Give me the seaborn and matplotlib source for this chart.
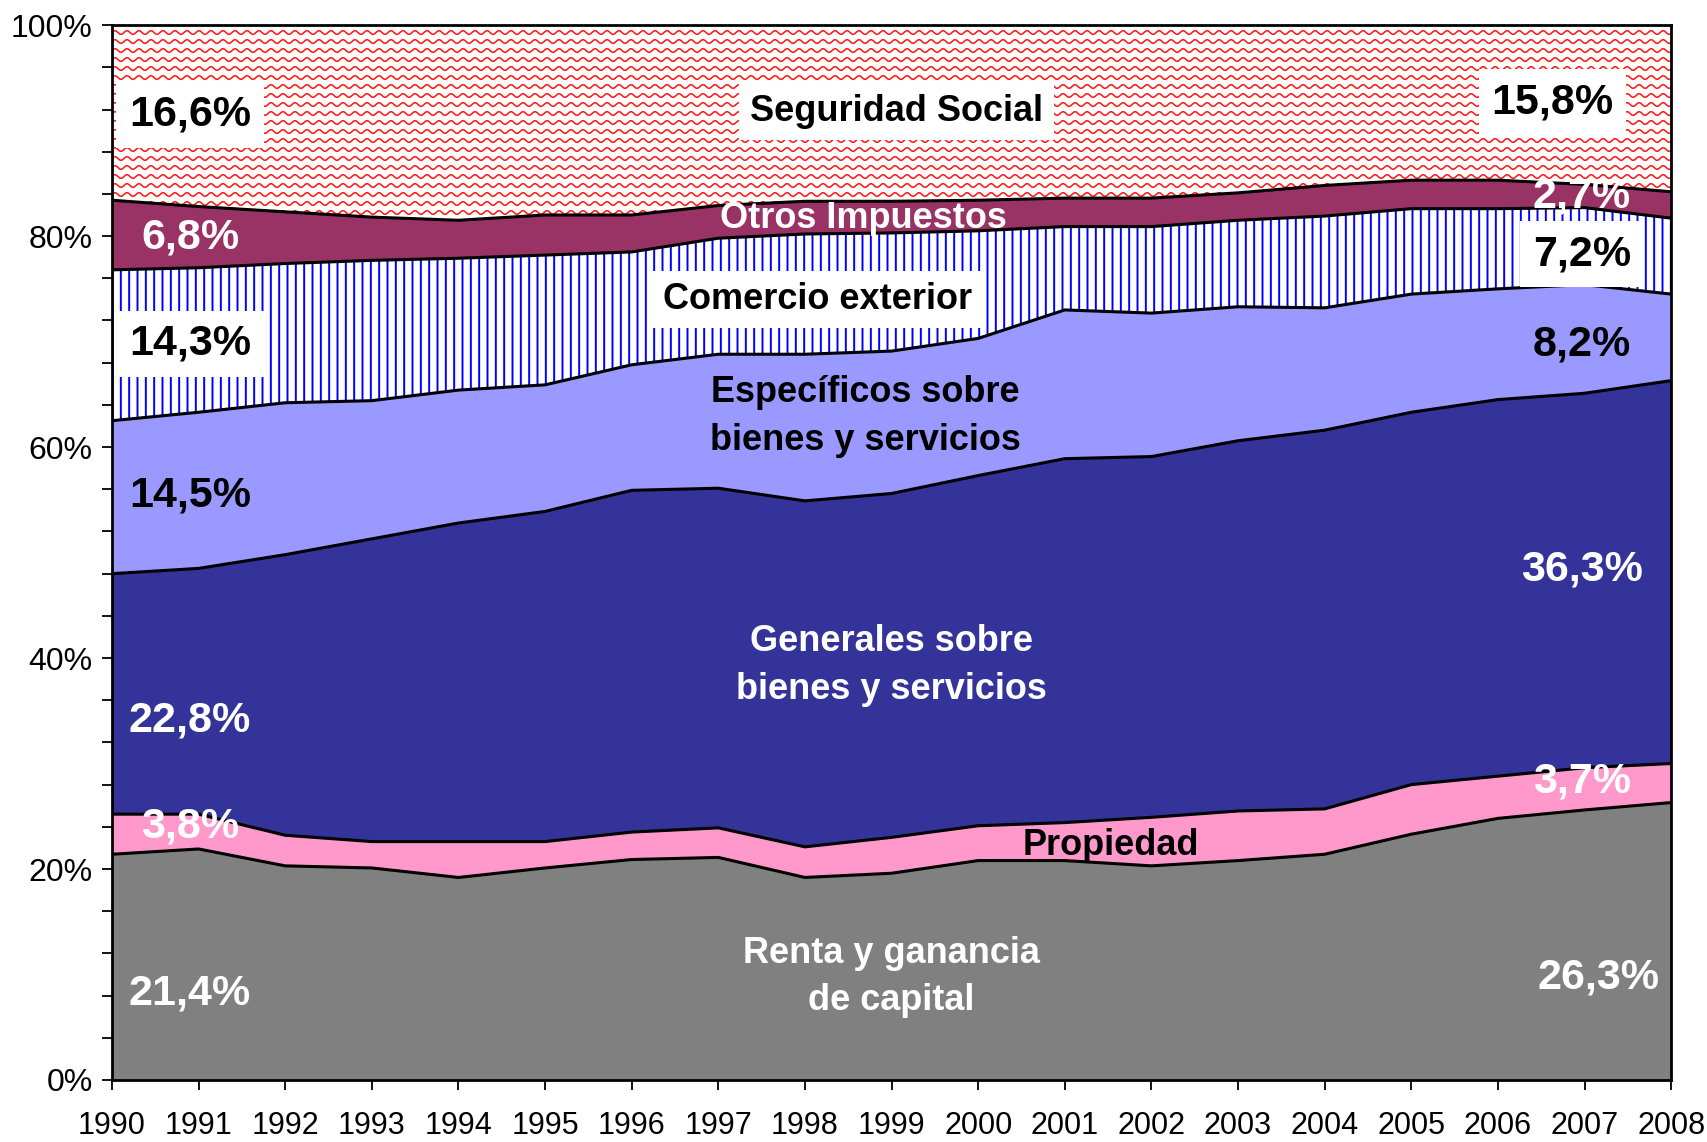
import numpy as np
import pandas as pd
import matplotlib
matplotlib.use("Agg")
import matplotlib.pyplot as plt
import seaborn as sns

years = list(range(1990, 2009))

# shares (%), bottom layer first
renta = [21.4, 21.9, 20.3, 20.1, 19.2, 20.1, 20.9, 21.1, 19.2, 19.6,
         20.8, 20.8, 20.3, 20.8, 21.4, 23.3, 24.8, 25.6, 26.3]
propiedad = [3.8, 3.3, 2.9, 2.5, 3.4, 2.5, 2.6, 2.8, 2.9, 3.4,
             3.3, 3.6, 4.6, 4.7, 4.3, 4.7, 4.0, 4.0, 3.7]
generales = [22.8, 23.3, 26.6, 28.7, 30.2, 31.3, 32.4, 32.2, 32.8, 32.6,
             33.2, 34.5, 34.2, 35.1, 35.9, 35.3, 35.7, 35.5, 36.3]
especificos = [14.5, 14.8, 14.4, 13.1, 12.6, 12.0, 11.9, 12.7, 13.9, 13.5,
               13.0, 14.1, 13.6, 12.7, 11.6, 11.2, 10.5, 10.3, 8.2]
comercio = [14.3, 13.7, 13.2, 13.3, 12.5, 12.3, 10.7, 11.0, 11.4, 11.2,
            10.2, 7.9, 8.2, 8.2, 8.7, 8.1, 7.6, 7.3, 7.2]
otros = [6.6, 5.8, 4.9, 4.1, 3.6, 3.8, 3.5, 3.1, 3.1, 3.0,
         2.9, 2.7, 2.7, 2.6, 2.9, 2.7, 2.7, 2.2, 2.5]

layers = ["Renta", "Propiedad", "Generales", "Especificos", "Comercio", "Otros", "Seguridad"]
shares = np.array([renta, propiedad, generales, especificos, comercio, otros])
seguridad = 100 - shares.sum(axis=0)
shares = np.vstack([shares, seguridad])
tops = np.cumsum(shares, axis=0)
bottoms = np.vstack([np.zeros(len(years)), tops[:-1]])

fill_colors = ["#808080", "#ff99cc", "#333399", "#9999ff", "white", "#993366", "white"]

# (text, x year, y %, color, size, boxed)
labels = [
    ("16,6%", 1990.9, 91.5, "black", 31, True),
    ("Seguridad Social", 1999.06, 91.8, "black", 26, True),
    ("15,8%", 2006.63, 92.7, "black", 31, True),
    ("6,8%", 1990.9, 79.9, "white", 31, False),
    ("Otros Impuestos", 1998.68, 81.7, "white", 26, False),
    ("2,7%", 2006.97, 83.8, "white", 31, False),
    ("14,3%", 1990.9, 69.8, "black", 31, True),
    ("Comercio exterior", 1998.14, 74.0, "black", 26, True),
    ("7,2%", 2006.97, 78.3, "black", 31, True),
    ("8,2%", 2006.97, 69.7, "black", 31, False),
    ("Específicos sobre\nbienes y servicios", 1998.7, 62.9, "black", 26, False),
    ("14,5%", 1990.9, 55.4, "black", 31, False),
    ("36,3%", 2006.97, 48.4, "white", 31, False),
    ("Generales sobre\nbienes y servicios", 1999.0, 39.3, "white", 26, False),
    ("22,8%", 1990.9, 34.1, "white", 31, False),
    ("3,8%", 1990.9, 24.0, "white", 31, False),
    ("3,7%", 2006.97, 28.3, "white", 31, False),
    ("Propiedad", 2001.53, 22.2, "black", 26, False),
    ("Renta y ganancia\nde capital", 1999.0, 9.8, "white", 26, False),
    ("21,4%", 1990.9, 8.2, "white", 31, False),
    ("26,3%", 2007.16, 9.7, "white", 31, False),
]

sns.set_style("white")
plt.rcParams['font.family'] = ['Liberation Sans', 'DejaVu Sans']
plt.rcParams['hatch.linewidth'] = 1.4
plt.rcParams['hatch.color'] = '#0000ff'

fig = plt.figure(figsize=(17.07, 11.42), dpi=100)
ax = fig.add_axes([0.0656, 0.0543, 0.9134, 0.9237])

polys = []
for i, name in enumerate(layers):
    kw = dict(facecolor=fill_colors[i], linewidth=0, zorder=1)
    if name == "Comercio":
        kw.update(edgecolor='#0000ff', hatch='||')
    polys.append(ax.fill_between(years, bottoms[i], tops[i], **kw))

# wavy red texture for Seguridad Social, clipped to its area
xs = np.linspace(0, 1, 6000)
clip_path = polys[-1].get_paths()[0]
for y0 in np.arange(0.72, 1.01, 9 / 1055):
    wave, = ax.plot(xs, y0 + (1.8 / 1055) * np.sin(2 * np.pi * xs / (12 / 1559)),
                    transform=ax.transAxes, color='#ff1a1a', lw=1.15, zorder=1.5)
    wave.set_clip_path(clip_path, ax.transData)

# black boundary lines between layers
bounds = pd.DataFrame({
    "year": np.tile(years, len(layers) - 1),
    "value": tops[:-1].ravel(),
    "layer": np.repeat(layers[:-1], len(years)),
})
sns.lineplot(data=bounds, x="year", y="value", hue="layer",
             palette=["black"] * (len(layers) - 1), legend=False,
             linewidth=2.2, ax=ax, zorder=2)

for text, x, y, color, size, boxed in labels:
    bbox = dict(boxstyle='square,pad=0.3', facecolor='white', edgecolor='none') if boxed else None
    ax.text(x, y, text, color=color, fontsize=size, fontweight='bold',
            ha='center', va='center', linespacing=1.45, bbox=bbox, zorder=4)

ax.set_xlim(1990, 2008)
ax.set_ylim(0, 100)
ax.set_xticks(years)
ax.set_xticklabels([str(y) for y in years])
ax.set_yticks(range(0, 101, 20))
ax.set_yticklabels([f"{v}%" for v in range(0, 101, 20)])
ax.set_yticks(range(0, 101, 4), minor=True)
ax.tick_params(axis='both', which='both', direction='out', length=7, width=1.3,
               colors='black')
ax.tick_params(axis='y', which='both', left=True, pad=7, labelsize=23)
ax.tick_params(axis='x', which='both', bottom=True, pad=15, labelsize=22)
ax.set_xlabel("")
ax.set_ylabel("")
for s in ax.spines.values():
    s.set_visible(True)
    s.set_color('black')
    s.set_linewidth(2)
    s.set_zorder(5)

fig.savefig("out.png", dpi=100)
